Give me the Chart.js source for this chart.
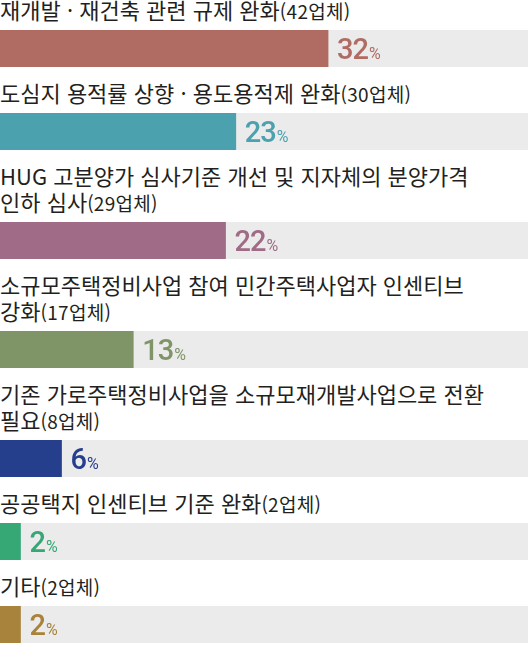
<!DOCTYPE html>
<html lang="ko">
<head>
    <meta charset="UTF-8">
    <title>정비사업 규제 개선 요구</title>
    <script src="https://cdn.jsdelivr.net/npm/chart.js"></script>
    <style>
        html, body {
            margin: 0;
            padding: 0;
            background: #fff;
            overflow: hidden;
        }
        #rows {
            width: 528px;
        }
        .row-label {
            font-family: "Noto Sans CJK KR", sans-serif;
            font-size: 22px;
            line-height: 26px;
            color: #231f20;
            margin: 12px 0 8px 0;
            white-space: nowrap;
            overflow: visible;
        }
        .row:first-child .row-label {
            margin-top: -4px;
        }
        .row-label .count {
            font-size: 19px;
            line-height: 1;
            letter-spacing: 0.3px;
        }
        .bar-box {
            position: relative;
            width: 528px;
            height: 37px;
        }
    </style>
</head>
<body>

<div id="rows"></div>

<script>
    // 항목 (줄바꿈 위치 그대로)
    const categories = [
        ['재개발 · 재건축 관련 규제 완화'],
        ['도심지 용적률 상향 · 용도용적제 완화'],
        ['HUG 고분양가 심사기준 개선 및 지자체의 분양가격', '인하 심사'],
        ['소규모주택정비사업 참여 민간주택사업자 인센티브', '강화'],
        ['기존 가로주택정비사업을 소규모재개발사업으로 전환', '필요'],
        ['공공택지 인센티브 기준 완화'],
        ['기타']
    ];
    const companyCounts = [42, 30, 29, 17, 8, 2, 2];
    const shares = [32, 23, 22, 13, 6, 2, 2];
    const barColors = ['#b06c63', '#4ba1ae', '#a06b86', '#7f9467', '#263f8c', '#36a876', '#a8833b'];
    const trackColor = '#ebebeb';
    const axisMax = 51.5;

    // 막대 끝에 "32%" 표시
    const valueLabel = {
        id: 'valueLabel',
        afterDatasetsDraw(chart) {
            const bar = chart.getDatasetMeta(0).data[0];
            const ctx = chart.ctx;
            const color = chart.data.datasets[0].backgroundColor;
            const num = String(chart.data.datasets[0].data[0]);
            const base = bar.y + 10;
            let x = bar.x + 9;
            ctx.save();
            ctx.fillStyle = color;
            ctx.textBaseline = 'alphabetic';
            ctx.textAlign = 'left';
            ctx.font = '500 29px Roboto';
            ctx.letterSpacing = '-1px';
            ctx.fillText(num, x, base);
            x += ctx.measureText(num).width + 1;
            ctx.font = '400 16px Roboto';
            ctx.letterSpacing = '0px';
            ctx.fillText('%', x, base);
            ctx.restore();
        }
    };

    const rows = document.getElementById('rows');

    categories.forEach((lines, i) => {
        const row = document.createElement('div');
        row.className = 'row';

        const label = document.createElement('div');
        label.className = 'row-label';
        label.style.height = (lines.length * 26) + 'px';
        lines.forEach((line, j) => {
            if (j > 0) label.appendChild(document.createElement('br'));
            label.appendChild(document.createTextNode(line));
        });
        const count = document.createElement('span');
        count.className = 'count';
        count.textContent = '(' + companyCounts[i] + '업체)';
        label.appendChild(count);

        const box = document.createElement('div');
        box.className = 'bar-box';
        const canvas = document.createElement('canvas');
        box.appendChild(canvas);

        row.appendChild(label);
        row.appendChild(box);
        rows.appendChild(row);

        new Chart(canvas, {
            type: 'bar',
            data: {
                labels: [lines.join(' ')],
                datasets: [
                    {
                        data: [shares[i]],
                        backgroundColor: barColors[i],
                        order: 0
                    },
                    {
                        data: [axisMax],
                        backgroundColor: trackColor,
                        order: 1
                    }
                ]
            },
            options: {
                indexAxis: 'y',
                responsive: true,
                maintainAspectRatio: false,
                animation: false,
                grouped: false,
                barPercentage: 1,
                categoryPercentage: 1,
                layout: { padding: 0 },
                scales: {
                    x: { display: false, min: 0, max: axisMax },
                    y: { display: false }
                },
                plugins: {
                    legend: { display: false },
                    tooltip: { enabled: false }
                }
            },
            plugins: [valueLabel]
        });
    });
</script>

</body>
</html>
